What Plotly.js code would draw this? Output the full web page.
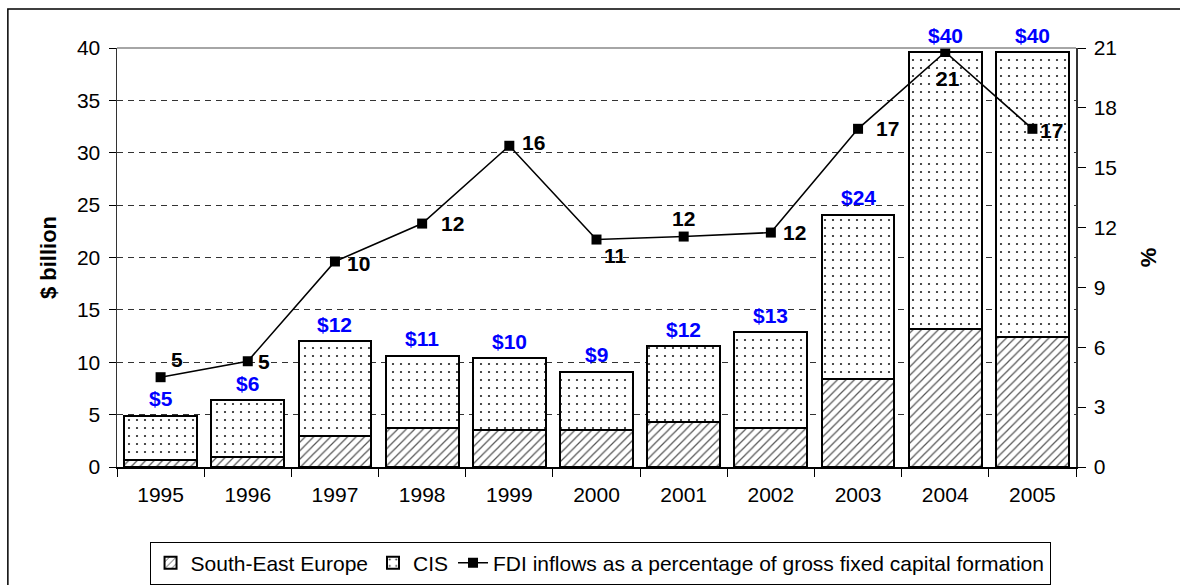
<!DOCTYPE html>
<html>
<head>
<meta charset="utf-8">
<script src="https://cdn.plot.ly/plotly-3.0.1.min.js"></script>
<style>
  html, body { margin: 0; padding: 0; background: #fff; }
  #chart { width: 1180px; height: 585px; }
</style>
</head>
<body>
<div id="chart"></div>
<script>
// ---- data ----
const years = ['1995','1996','1997','1998','1999','2000','2001','2002','2003','2004','2005'];
const southEastEurope = [0.65, 1.0, 3.0, 3.75, 3.55, 3.5, 4.25, 3.75, 8.4, 13.2, 12.4];
const cis = [4.25, 5.35, 9.0, 6.85, 6.85, 5.6, 7.3, 9.1, 15.7, 26.4, 27.2];
const fdiShare = [4.5, 5.3, 10.3, 12.2, 16.1, 11.4, 11.55, 11.75, 16.95, 20.8, 16.95];
const totalLabels = ['$5','$6','$12','$11','$10','$9','$12','$13','$24','$40','$40'];
const shareLabels = ['5','5','10','12','16','11','12','12','17','21','17'];

// ---- label placement (styles, pixel offsets) ----
const shareLabelShift = [[16,18],[16,0],[24,-2],[30,0],[24,3],[19,-16],[0,18],[24,0],[29,0],[3,-27],[19,-2]];

const FONT = 'Liberation Sans, Arial, sans-serif';
const totals = years.map((y, i) => southEastEurope[i] + cis[i]);

const traces = [
  {
    type: 'bar', name: 'South-East Europe', x: years, y: southEastEurope,
    marker: {
      color: '#ffffff',
      line: {color: '#000', width: 2},
      pattern: {shape: '/', fgcolor: '#555', bgcolor: '#ffffff', size: 6, solidity: 0.2}
    },
    hoverinfo: 'skip'
  },
  {
    type: 'bar', name: 'CIS', x: years, y: cis,
    marker: {
      color: '#ffffff',
      line: {color: '#000', width: 2},
      pattern: {shape: '.', fgcolor: '#222', bgcolor: '#ffffff', size: 8, solidity: 0.06}
    },
    hoverinfo: 'skip'
  },
  {
    type: 'scatter', mode: 'lines+markers',
    name: 'FDI inflows as a percentage of gross fixed capital formation',
    x: years, y: fdiShare, yaxis: 'y2',
    line: {color: '#000', width: 1.6},
    marker: {symbol: 'square', size: 10, color: '#000'},
    hoverinfo: 'skip'
  }
];

// category axes take serial numbers for annotation positions
const annotations = [];
years.forEach((yr, i) => {
  annotations.push({
    x: i, y: totals[i], xref: 'x', yref: 'y',
    text: '<b>' + totalLabels[i] + '</b>', showarrow: false,
    yanchor: 'middle', xanchor: 'center', yshift: 17,
    font: {family: FONT, size: 21, color: '#0000ff'}
  });
  annotations.push({
    x: i, y: fdiShare[i], xref: 'x', yref: 'y2',
    text: '<b>' + shareLabels[i] + '</b>', showarrow: false,
    yanchor: 'middle', xanchor: 'center',
    xshift: shareLabelShift[i][0], yshift: shareLabelShift[i][1],
    font: {family: FONT, size: 21, color: '#000'}
  });
});

const layout = {
  width: 1180, height: 585,
  margin: {l: 117, r: 104, t: 48, b: 118, pad: 0, autoexpand: false},
  paper_bgcolor: '#fff', plot_bgcolor: '#fff',
  font: {family: FONT, size: 21, color: '#000'},
  barmode: 'stack', bargap: 0.165,
  showlegend: true,
  legend: {
    orientation: 'h', x: 0.5037, xanchor: 'center', y: -0.178, yanchor: 'top',
    bordercolor: '#000', borderwidth: 1, bgcolor: '#fff',
    font: {family: FONT, size: 21, color: '#000'},
    traceorder: 'normal', itemwidth: 30
  },
  xaxis: {
    type: 'category', range: [-0.5, 10.5], showgrid: false, zeroline: false,
    showline: true, linecolor: '#000', linewidth: 1.5,
    ticks: 'outside', tickson: 'boundaries', ticklen: 8, tickcolor: '#000',
    ticklabelstandoff: 8, tickangle: 0,
    tickfont: {family: FONT, size: 21, color: '#000'}
  },
  yaxis: {
    range: [0, 40], dtick: 5, tick0: 0,
    showgrid: true, gridcolor: '#333', griddash: '6px,5px', gridwidth: 1,
    zeroline: false, showline: true, linecolor: '#333', linewidth: 1.5,
    ticks: 'outside', ticklen: 7, tickcolor: '#000', ticklabelstandoff: 4,
    tickfont: {family: FONT, size: 21, color: '#000'},
    title: {text: '<b>$ billion</b>', font: {family: FONT, size: 22, color: '#000'}, standoff: 14}
  },
  yaxis2: {
    range: [0, 21], dtick: 3, tick0: 0, overlaying: 'y', side: 'right',
    showgrid: false, zeroline: false, showline: true, linecolor: '#333', linewidth: 1.5,
    ticks: 'outside', ticklen: 8, tickcolor: '#000', ticklabelstandoff: 4,
    tickfont: {family: FONT, size: 21, color: '#000'},
    title: {text: '<b>%</b>', font: {family: FONT, size: 22, color: '#000'}, standoff: 24}
  },
  annotations: annotations,
  shapes: [
    {type: 'line', xref: 'paper', yref: 'paper', x0: 0, x1: 1, y0: 1, y1: 1,
     line: {color: '#888', width: 1.5}},
    {type: 'rect', xref: 'paper', yref: 'paper', x0: -0.1138, x1: 1.115, y0: -0.2936, y1: 1.093,
     line: {color: '#000', width: 1.5}, fillcolor: 'rgba(0,0,0,0)', layer: 'below'}
  ]
};

Plotly.newPlot('chart', traces, layout, {displayModeBar: false, staticPlot: true});
</script>
</body>
</html>
